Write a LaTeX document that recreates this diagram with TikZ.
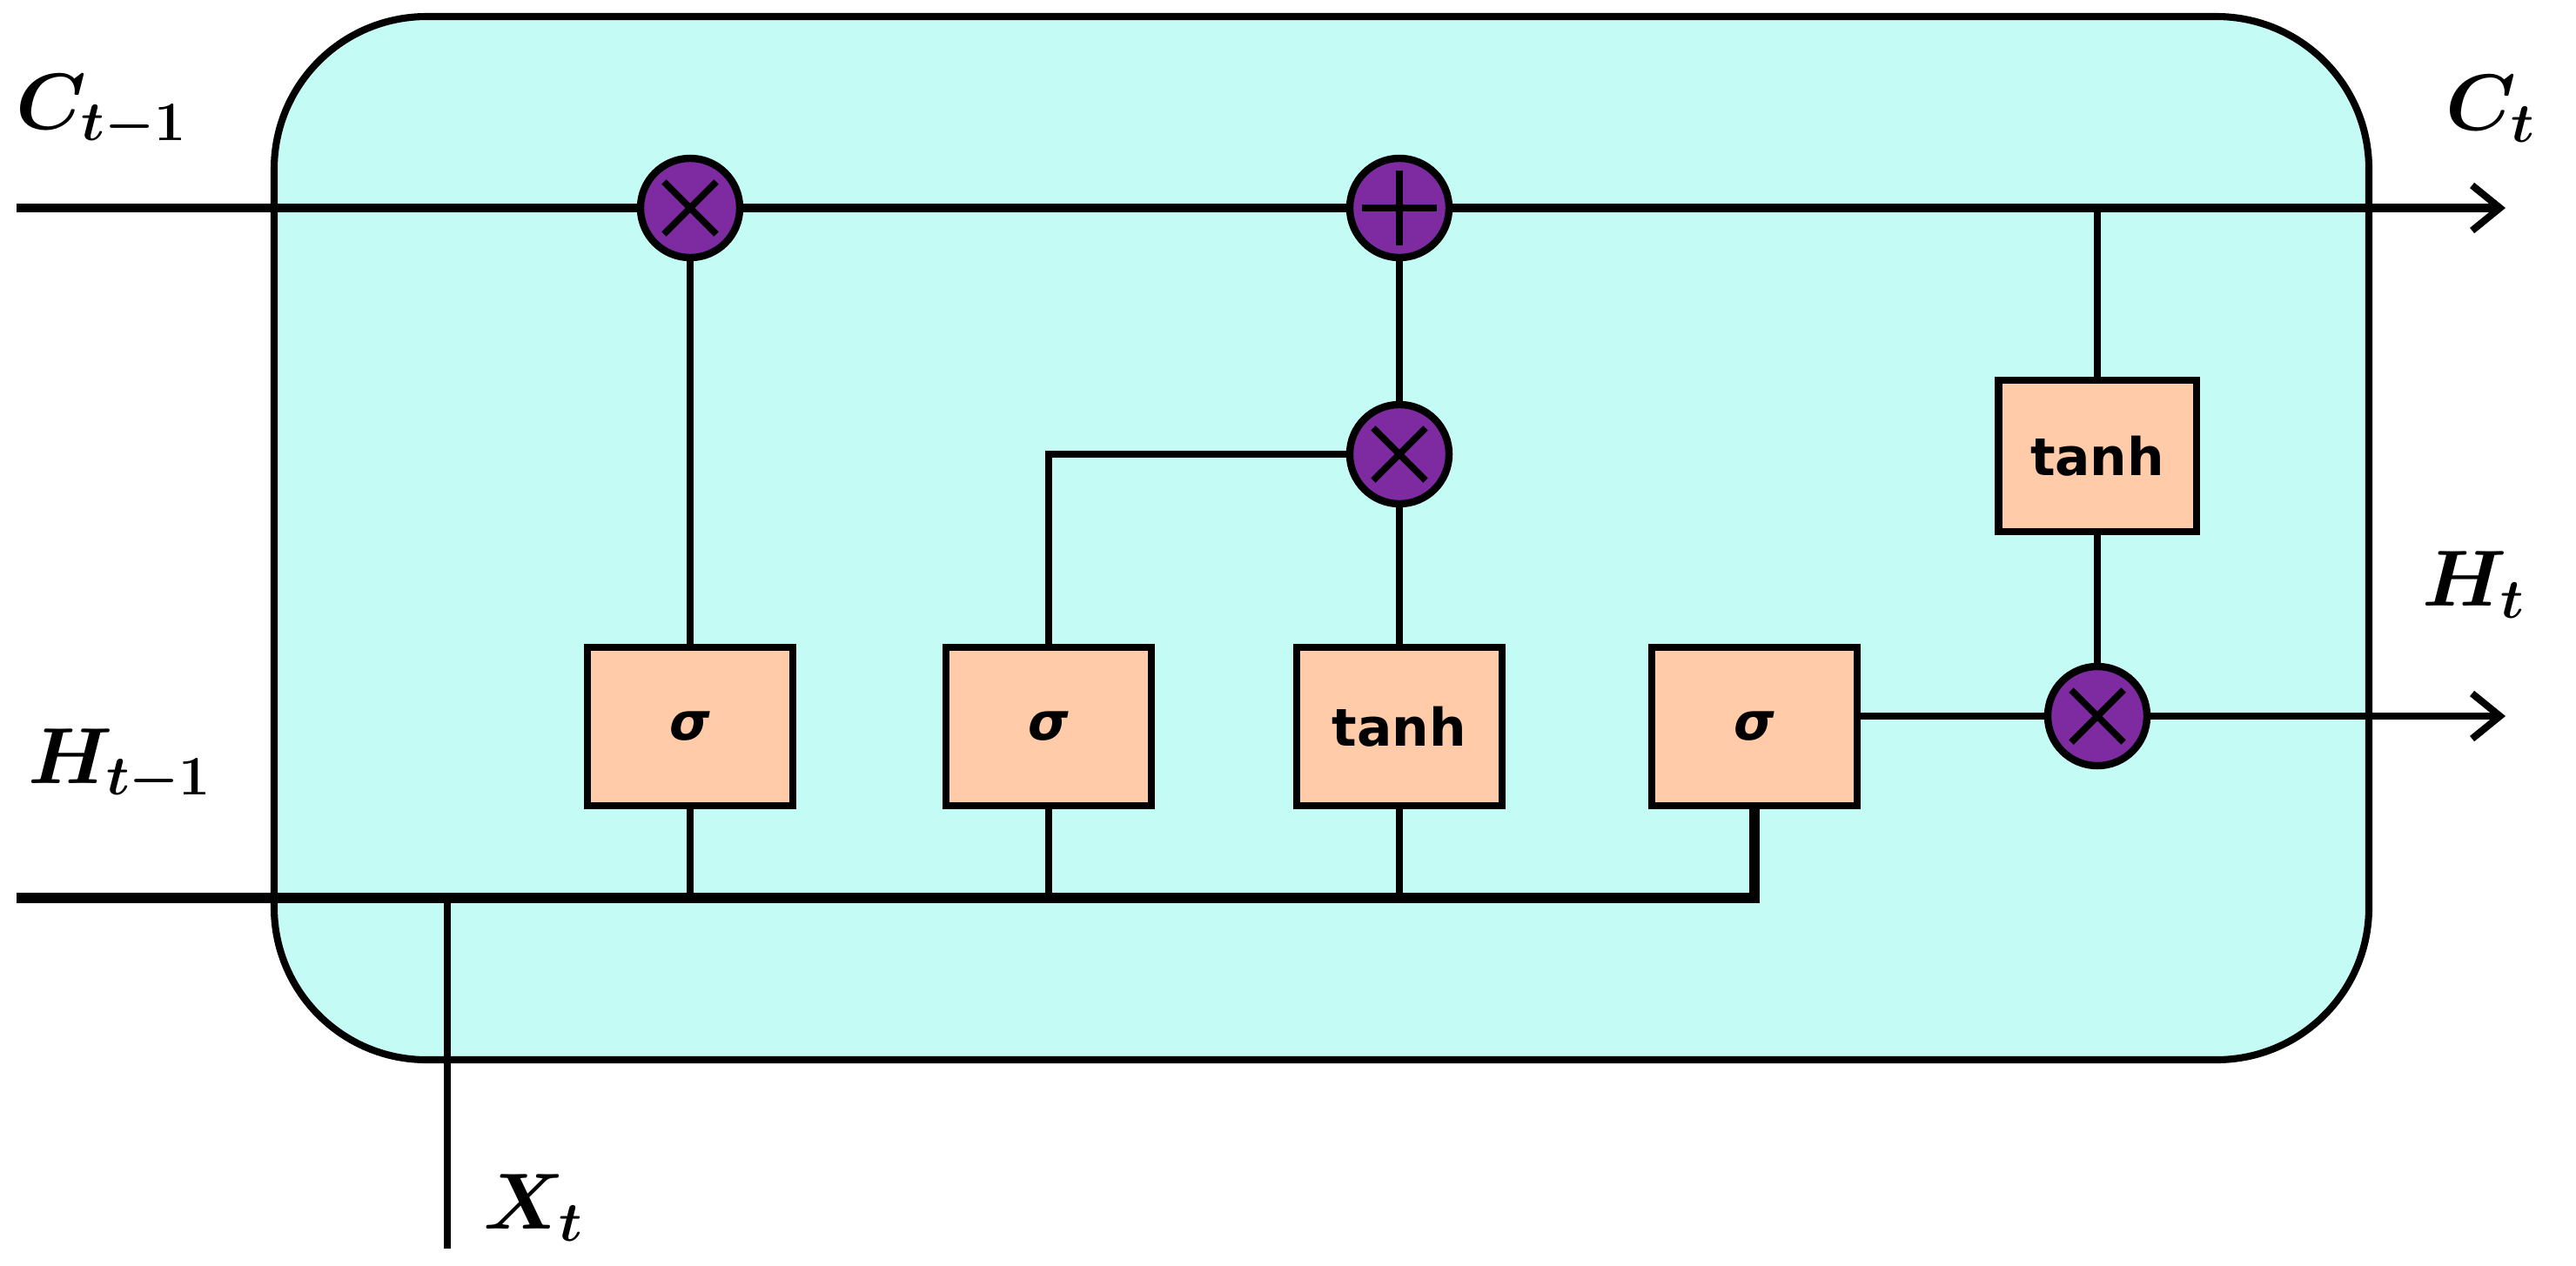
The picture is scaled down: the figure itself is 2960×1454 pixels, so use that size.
\RequirePackage{fix-cm}
\documentclass[tikz,border=0pt]{standalone}
\usepackage{fontspec}
\usepackage{bm}
\usetikzlibrary{arrows.meta}
\newfontfamily\boxfont{DejaVu Sans}
\definecolor{cellcyan}{HTML}{C4FCF5}
\definecolor{gatepeach}{HTML}{FFCBA8}
\definecolor{oppurple}{HTML}{7E2AA0}
\tikzset{
  wire/.style={line width=2.3pt},
  cwire/.style={line width=2.85pt},
  hwire/.style={line width=3.2pt},
  arr/.style={-{Straight Barb[length=0.32cm,width=0.52cm,line width=2.3pt]}},
  gate/.style={draw, line width=2.3pt, fill=gatepeach, minimum width=2.36cm, minimum height=1.82cm, inner sep=0pt, font=\boxfont\bfseries\fontsize{17}{20}\selectfont},
  opbase/.style={circle, draw, line width=2.4pt, fill=oppurple, minimum size=1.14cm, inner sep=0pt},
  mulop/.style={opbase, path picture={
     \draw[line width=2.2pt] ([shift={(-0.3cm,-0.3cm)}]path picture bounding box.center) -- ([shift={(0.3cm,0.3cm)}]path picture bounding box.center);
     \draw[line width=2.2pt] ([shift={(-0.3cm,0.3cm)}]path picture bounding box.center) -- ([shift={(0.3cm,-0.3cm)}]path picture bounding box.center);}},
  addop/.style={opbase, path picture={
     \draw[line width=2.2pt] ([shift={(-0.43cm,0cm)}]path picture bounding box.center) -- ([shift={(0.43cm,0cm)}]path picture bounding box.center);
     \draw[line width=2.2pt] ([shift={(0cm,-0.43cm)}]path picture bounding box.center) -- ([shift={(0cm,0.43cm)}]path picture bounding box.center);}},
  lbl/.style={inner sep=0pt, font=\fontsize{26}{30}\selectfont}
}
\begin{document}
\begin{tikzpicture}[x=0.01cm, y=-0.01cm]
\useasboundingbox (0,0) rectangle (2960,1454);
% cell body
\draw[line width=2.3pt, fill=cellcyan, rounded corners=1.75cm] (315,19) rectangle (2722,1218);

% operators
\node[mulop] (m1) at (793,239) {};
\node[addop] (add) at (1608,239) {};
\node[mulop] (m2) at (1608,522) {};
\node[mulop] (m3) at (2410,823) {};

% gates
\node[gate] (s1) at (793,835) {\itshape σ};
\node[gate] (s2) at (1205,835) {\itshape σ};
\node[gate] (t1) at (1608,835) {tanh};
\node[gate] (s3) at (2016,835) {\itshape σ};
\node[gate, minimum width=2.27cm, minimum height=1.74cm] (t2) at (2410,524) {tanh};

% free ends
\coordinate (cin) at (19,239);
\coordinate (cout) at (2879,239);
\coordinate (tap) at (2410,239);
\coordinate (hin) at (19,1032);
\coordinate (hout) at (2879,823);
\coordinate (xin) at (514,1435);

% cell state line
\draw[cwire] (cin) -- (m1);
\draw[cwire] (m1) -- (add);
\draw[cwire, arr] (add) -- (cout);
\draw[wire] (tap) -- (t2.north);

% hidden line
\draw[hwire] (hin) -- (hin -| s3.south) -- (s3.south);
\draw[wire] (s1.south) -- (s1.south |- hin);
\draw[wire] (s2.south) -- (s2.south |- hin);
\draw[wire] (t1.south) -- (t1.south |- hin);
\draw[wire] (xin) -- (xin |- hin);

% internal connections
\draw[wire] (s1) -- (m1);
\draw[wire] (s2.north) |- (m2.west);
\draw[wire] (t1) -- (m2);
\draw[wire] (m2) -- (add);
\draw[wire] (t2) -- (m3);
\draw[wire] (s3.east |- m3) -- (m3.west);
\draw[wire, arr] (m3) -- (hout);

% labels
\node[lbl] (lc0) at (117,128) {$\bm{C_{t-1}}$};
\node[lbl] (lc1) at (2862,125) {$\bm{C_{t}}$};
\node[lbl] (lh1) at (2843,672) {$\bm{H_{t}}$};
\node[lbl] (lh0) at (138,880) {$\bm{H_{t-1}}$};
\node[lbl] (lx) at (613,1388) {$\bm{X_{t}}$};
\end{tikzpicture}
\end{document}
